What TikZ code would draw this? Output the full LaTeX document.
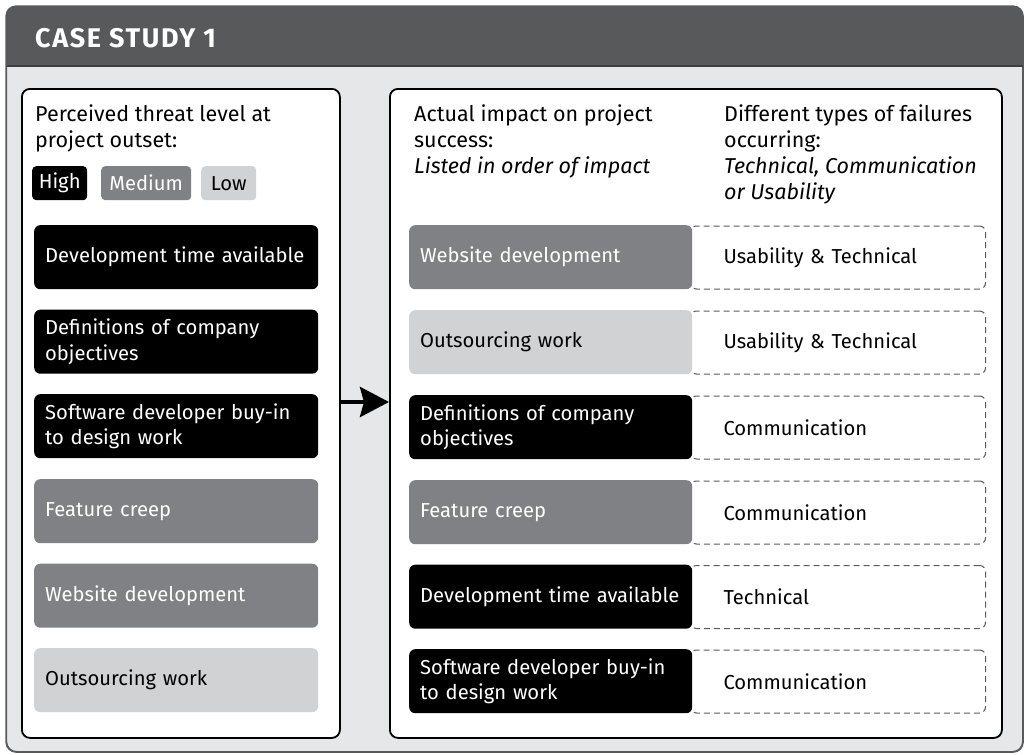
\documentclass[tikz,border=0pt]{standalone}
\usepackage{fontspec}
\setmainfont{Fira Sans}
\usetikzlibrary{arrows.meta}
\definecolor{hdr}{HTML}{58595B}
\definecolor{bgl}{HTML}{E6E7E8}
\definecolor{medg}{HTML}{808184}
\definecolor{lowg}{HTML}{D1D2D4}
\definecolor{dashc}{HTML}{5A5B5D}
\tikzset{
  txt/.style={font=\fontsize{20.2}{25.5}\selectfont},
  panel/.style={draw=black, line width=1.8pt, fill=white, rounded corners=8pt, anchor=north west, inner sep=0pt},
  item/.style={txt, rounded corners=6pt, minimum width=284pt, minimum height=64pt, text width=262pt, inner xsep=0pt, align=left, anchor=north west},
  ritem/.style={item, minimum width=283pt, text width=261pt},
  high/.style={fill=black, text=white},
  med/.style={fill=medg, text=white},
  low/.style={fill=lowg, text=black},
  fail/.style={txt, draw=dashc, line width=1pt, dash pattern=on 6pt off 4pt, rounded corners=6pt, minimum width=295pt, minimum height=63pt, text width=229pt, inner xsep=0pt, align=left, anchor=north west},
  legend/.style={txt, rounded corners=4pt, minimum height=34pt, inner sep=0pt, anchor=north west},
  head/.style={font=\fontsize{21.5}{26}\selectfont, align=left, anchor=north west, inner sep=0pt},
}
\begin{document}
\begin{tikzpicture}[x=1pt,y=-1pt]
\useasboundingbox (0,0) rectangle (1026,755);
% outer frame
\node[draw=hdr, line width=1.2pt, fill=bgl, rounded corners=10pt, minimum width=1016pt, minimum height=745pt, anchor=north west, inner sep=0pt] (frame) at (6,6) {};
\coordinate (hb) at (0,66);
\fill[hdr] (frame.west |- hb) [rounded corners=10pt] -- (frame.north west) -- (frame.north east) [sharp corners] -- (frame.east |- hb) -- cycle;
\draw[hdr!70!black, line width=1.2pt] (frame.west |- hb) -- (frame.east |- hb);
\draw[hdr, line width=1.2pt, rounded corners=10pt] (frame.south west) rectangle (frame.north east);
\node[anchor=base west, inner sep=0pt, text=white, font=\fontsize{27}{30}\selectfont\bfseries\addfontfeature{LetterSpace=6}] (title) at (35,47) {CASE STUDY 1};

% panels
\node[panel, minimum width=318pt, minimum height=649pt] (lp) at (21,88) {};
\node[panel, minimum width=612pt, minimum height=649pt] (rp) at (389,88) {};

% left heading
\node[head] (lh) at (35,105) {Perceived threat level at\\project outset:};
\node[legend, high, minimum width=55pt] (lgh) at (32,166) {High};
\node[legend, med, minimum width=90pt] (lgm) at (101,166) {Medium};
\node[legend, low, minimum width=55pt] (lgl) at (201,166) {Low};

% left items
\node[item, high] (l1) at (34,225) {Development time available};
\node[item, high] (l2) at (34,309.5) {Definitions of company\\objectives};
\node[item, high] (l3) at (34,394) {Software developer buy-in\\to design work};
\node[item, med] (l4) at (34,479) {Feature creep};
\node[item, med] (l5) at (34,563.5) {Website development};
\node[item, low] (l6) at (34,648) {Outsourcing work};

% right headings
\node[head] (rh1) at (414,105) {Actual impact on project\\success:\\\textit{Listed in order of impact}};
\node[head] (rh2) at (724,105) {Different types of failures\\occurring:\\\textit{Technical, Communication}\\\textit{or Usability}};

% failure boxes
\node[fail] (f1) at (690,225.5) {Usability \& Technical};
\node[fail] (f2) at (690,310.5) {Usability \& Technical};
\node[fail] (f3) at (690,395.5) {Communication};
\node[fail] (f4) at (690,480.5) {Communication};
\node[fail] (f5) at (690,565) {Technical};
\node[fail] (f6) at (690,649.5) {Communication};

% right items
\node[ritem, med] (r1) at (409,225) {Website development};
\node[ritem, low] (r2) at (409,310) {Outsourcing work};
\node[ritem, high] (r3) at (409,395) {Definitions of company\\objectives};
\node[ritem, med] (r4) at (409,480) {Feature creep};
\node[ritem, high] (r5) at (409,564.5) {Development time available};
\node[ritem, high] (r6) at (409,649) {Software developer buy-in\\to design work};

% arrow
\coordinate (ay) at (0,402);
\draw[line width=4.5pt, -{Stealth[length=29pt,width=30pt,inset=4pt]}] (lp.east |- ay) -- (rp.west |- ay);
\end{tikzpicture}
\end{document}
